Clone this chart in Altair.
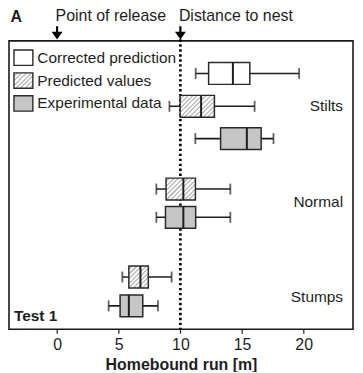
import altair as alt
import pandas as pd

# ---------------- data ----------------
groups = ["Stilts", "Stilts", "Stilts", "Normal", "Normal", "Stumps", "Stumps"]
kinds = ["Corrected prediction", "Predicted values", "Experimental data",
         "Predicted values", "Experimental data",
         "Predicted values", "Experimental data"]
whisker_lo = [11.24, 9.11, 11.21, 8.05, 8.05, 5.29, 4.18]
q1 = [12.29, 9.98, 13.26, 8.84, 8.79, 5.82, 5.11]
median = [14.26, 11.68, 15.39, 10.24, 10.24, 6.76, 5.82]
q3 = [15.63, 12.76, 16.55, 11.22, 11.24, 7.40, 6.95]
whisker_hi = [19.63, 16.02, 17.55, 14.05, 14.05, 9.29, 8.18]

categories = ["Stilts", "Normal", "Stumps"]
legend_labels = ["Corrected prediction", "Predicted values", "Experimental data"]
tick_values = [0, 5, 10, 15, 20]
release_at = 0
nest_at = 10

# ---------------- layout / style ----------------
W, H = 346, 290
X_DOMAIN = [-3.9, 24.0]
Y_DOMAIN = [0, 10]
ROW_POS = [1.13, 2.27, 3.39, 5.14, 6.12, 8.19, 9.19]
LABEL_POS = [2.27, 5.6, 8.9]
BOX_H = 22
PX_X = W / (X_DOMAIN[1] - X_DOMAIN[0])
HALF = BOX_H / 2 * (Y_DOMAIN[1] - Y_DOMAIN[0]) / H
FONT = "Liberation Sans"
INK = "#1e1e1e"
GRAY = "#c6c6c6"
LINE_GRAY = "#c2c2c2"


def hatch_fill(w, h, period=4.6, gap=2.5):
    r = h / w
    k = (1 + r) / (1 + r * r)
    L = w + h
    stops = []
    a = 0.0
    while a < L - 1e-9:
        o1 = a / L
        o2 = min((a + gap) / L, 1.0)
        o3 = min((a + period) / L, 1.0)
        stops += [
            alt.GradientStop(offset=o1, color="white"),
            alt.GradientStop(offset=o2, color="white"),
            alt.GradientStop(offset=o2, color=LINE_GRAY),
            alt.GradientStop(offset=o3, color=LINE_GRAY),
        ]
        a += period
    return alt.LinearGradient(gradient="linear", stops=stops,
                              x1=0, y1=0, x2=k, y2=k * r)


xs = alt.Scale(domain=X_DOMAIN, nice=False, zero=False)
ys = alt.Scale(domain=Y_DOMAIN, reverse=True, nice=False, zero=False)
X_AXIS = alt.Axis(values=tick_values, title="Homebound run [m]", grid=False,
                  domain=False, ticks=True, tickSize=4, tickColor=INK,
                  tickWidth=1.2, labelFontSize=16, labelColor=INK,
                  labelFont=FONT, labelPadding=3, titleFont=FONT,
                  titleFontSize=16, titleFontWeight="bold", titleColor=INK,
                  titlePadding=5)


def X(field):
    return alt.X(field, type="quantitative", scale=xs, axis=X_AXIS)


def Y(field):
    return alt.Y(field, type="quantitative", scale=ys, axis=None)


df = pd.DataFrame(dict(group=groups, kind=kinds, row=ROW_POS, wlo=whisker_lo,
                       q1=q1, med=median, q3=q3, whi=whisker_hi))
df["ylo"] = df["row"] - HALF
df["yhi"] = df["row"] + HALF

base = alt.Chart(df)

whisker = base.mark_rule(color=INK, strokeWidth=1.6).encode(
    x=X("wlo"), x2="whi", y=Y("row"))
caps_lo = base.mark_tick(orient="vertical", size=11, thickness=1.8,
                         color=INK).encode(x=X("wlo"), y=Y("row"))
caps_hi = base.mark_tick(orient="vertical", size=11, thickness=1.8,
                         color=INK).encode(x=X("whi"), y=Y("row"))

solid_boxes = base.transform_filter(
    alt.datum.kind != "Predicted values"
).mark_rect(stroke="#2a2a2a", strokeWidth=1.5).encode(
    x=X("q1"), x2="q3", y=Y("ylo"), y2="yhi",
    fill=alt.Fill("kind:N", scale=alt.Scale(
        domain=["Corrected prediction", "Experimental data"],
        range=["white", GRAY]), legend=None))

hatched_boxes = []
for i, k in enumerate(kinds):
    if k != "Predicted values":
        continue
    w_px = (q3[i] - q1[i]) * PX_X
    hatched_boxes.append(
        alt.Chart(df.iloc[[i]]).mark_rect(
            stroke="#2a2a2a", strokeWidth=1.5, fill=hatch_fill(w_px, BOX_H)
        ).encode(x=X("q1"), x2="q3", y=Y("ylo"), y2="yhi"))

medians = base.mark_rule(color=INK, strokeWidth=2).encode(
    x=X("med"), y=Y("ylo"), y2="yhi")

# category labels
cat_df = pd.DataFrame(dict(label=categories, pos=LABEL_POS))
cat_text = alt.Chart(cat_df).mark_text(
    align="right", baseline="middle", fontSize=15.5, font=FONT, color=INK
).encode(x=alt.value(W - 10), y=Y("pos"), text="label:N")

# dotted nest line + arrows + annotations
nest_line = alt.Chart().mark_rule(
    color="black", strokeWidth=2.6, strokeDash=[2.4, 2.6]
).encode(x=alt.datum(nest_at), y=alt.value(-1.5), y2=alt.value(H))

ARROW = "M-0.2,-1.2L0.2,-1.2L0.2,-0.2L1,-0.2L0,1.2L-1,-0.2L-0.2,-0.2Z"
arrows_df = pd.DataFrame(dict(at=[release_at, nest_at],
                              label=["Point of release", "Distance to nest"]))
arrows = alt.Chart(arrows_df).mark_point(
    shape=ARROW, size=121, filled=True, color="black", opacity=1
).encode(x=X("at"), y=alt.value(-8))
arrow_text = alt.Chart(arrows_df).mark_text(
    align="left", baseline="middle", fontSize=16, font=FONT, color=INK, dx=-1.5
).encode(x=X("at"), y=alt.value(-24.5), text="label:N")

panel_a = alt.Chart().mark_text(
    align="left", baseline="middle", fontSize=16, font=FONT,
    fontWeight="bold", color=INK
).encode(x=alt.value(1.5), y=alt.value(-23.5), text=alt.datum("A"))

test_lbl = alt.Chart().mark_text(
    align="left", baseline="middle", fontSize=15.5, font=FONT,
    fontWeight="bold", color=INK
).encode(x=alt.value(5), y=alt.value(277), text=alt.datum("Test 1"))

# legend drawn as marks
leg_df = pd.DataFrame(dict(label=legend_labels,
                           top=[9.2, 32.2, 55.2],
                           kind=legend_labels))
leg_df["bottom"] = leg_df["top"] + 15.5
leg_df["mid"] = leg_df["top"] + 7.8
leg_layers = []
for i, lab in enumerate(legend_labels):
    if lab == "Predicted values":
        fill = hatch_fill(19, 15.5)
    elif lab == "Experimental data":
        fill = GRAY
    else:
        fill = "white"
    leg_layers.append(
        alt.Chart(leg_df.iloc[[i]]).mark_rect(
            fill=fill, stroke="#2a2a2a", strokeWidth=1.4
        ).encode(x=alt.value(5), x2=alt.value(24),
                 y=alt.value(leg_df["top"][i]),
                 y2=alt.value(leg_df["bottom"][i])))
leg_text = alt.Chart(leg_df).mark_text(
    align="left", baseline="middle", fontSize=15.5, font=FONT, color=INK
).encode(x=alt.value(28.5), y=alt.Y("mid:Q", scale=None), text="label:N")

chart = alt.layer(
    nest_line, whisker, caps_lo, caps_hi, solid_boxes, *hatched_boxes, medians,
    cat_text, arrows, arrow_text, panel_a, test_lbl, *leg_layers, leg_text
).properties(
    width=W, height=H,
    autosize=alt.AutoSizeParams(type="none"),
    padding={"left": 1, "top": 32, "right": 2, "bottom": 42},
    background="white",
).configure_view(stroke="#1a1a1a", strokeWidth=1.6)

chart.save("out.html", embed_options={"renderer": "svg", "actions": False})
